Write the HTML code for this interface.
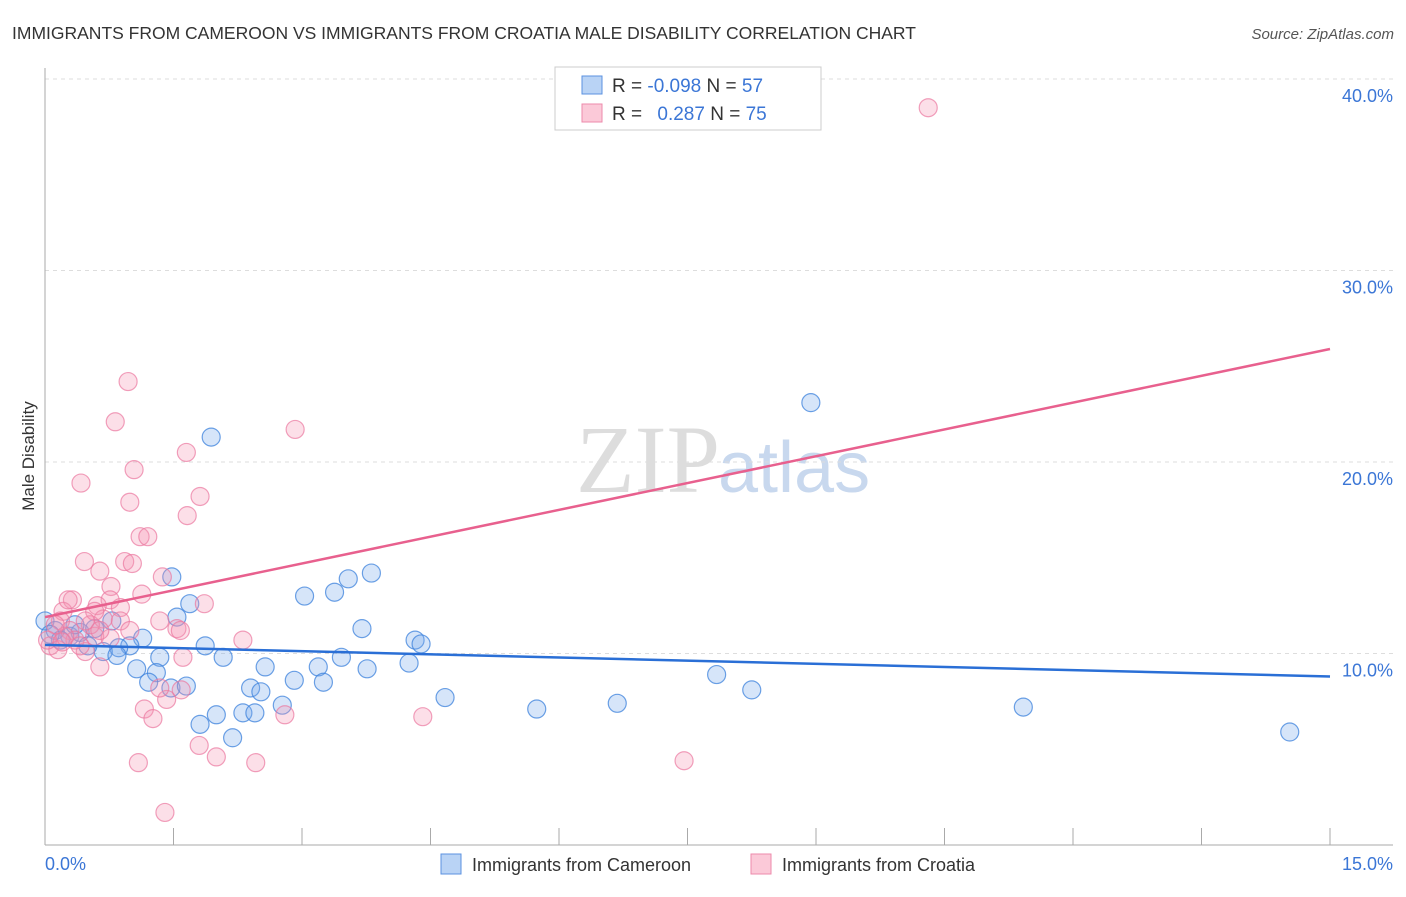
<!DOCTYPE html>
<html><head><meta charset="utf-8"><style>
body{margin:0;background:#fff;font-family:"Liberation Sans",sans-serif;}
</style></head><body>
<svg width="1406" height="892" xmlns="http://www.w3.org/2000/svg">
<text x="12" y="39" font-size="17.5" fill="#333">IMMIGRANTS FROM CAMEROON VS IMMIGRANTS FROM CROATIA MALE DISABILITY CORRELATION CHART</text>
<text x="1394" y="39" font-size="15" fill="#555" font-style="italic" text-anchor="end">Source: ZipAtlas.com</text>
<text x="720" y="492" font-size="96" fill="#ddd" text-anchor="end" font-family="Liberation Serif">ZIP</text>
<text x="718" y="492" font-size="72" fill="#c8d8ee">atlas</text>
<g id="grid"></g>
<g id="axes"></g>
<g id="pts"></g>
<g id="trends"></g>
<text transform="translate(34,456) rotate(-90)" font-size="17" fill="#333" text-anchor="middle">Male Disability</text>
<text x="45" y="870" font-size="18" fill="#3b76d6">0.0%</text>
<text x="1393" y="870" font-size="18" fill="#3b76d6" text-anchor="end">15.0%</text>
<g>
<rect x="555" y="67" width="266" height="63" fill="#fff" stroke="#ccc"/>
<rect x="582" y="76" width="20" height="18" fill="#b9d3f5" stroke="#5b92e0"/>
<rect x="582" y="104" width="20" height="18" fill="#fbc9d8" stroke="#ec8aab"/>
<text x="612" y="92" font-size="19" fill="#333">R = <tspan fill="#3b76d6">-0.098</tspan>   N = <tspan fill="#3b76d6">57</tspan></text>
<text x="612" y="120" font-size="19" fill="#333">R = <tspan fill="#3b76d6" dx="10">0.287</tspan>   N = <tspan fill="#3b76d6">75</tspan></text>
</g>
<g>
<rect x="441" y="854" width="20" height="20" fill="#b9d3f5" stroke="#5b92e0"/>
<text x="472" y="871" font-size="18" fill="#333">Immigrants from Cameroon</text>
<rect x="751" y="854" width="20" height="20" fill="#fbc9d8" stroke="#ec8aab"/>
<text x="782" y="871" font-size="18" fill="#333">Immigrants from Croatia</text>
</g>
</svg>
<script>
const yTicks=[10,20,30,40];
const xTicks=[0,1.5,3,4.5,6,7.5,9,10.5,12,13.5,15];
const blueX=[1.94,8.94,1.48,3.81,3.54,3.38,3.03,1.69,1.54,3.70,0.78,1.14,4.32,4.39,0.99,1.87,0.86,0.68,0.84,1.34,2.08,4.25,2.57,3.19,3.46,3.76,1.07,1.30,7.84,2.91,3.25,1.21,8.25,1.47,1.65,2.40,2.52,4.67,2.77,5.74,6.68,11.42,2.00,2.31,2.45,1.81,2.19,14.53,0.0,0.12,0.29,0.41,0.58,0.18,0.35,0.50,0.06];
const blueY=[21.3,23.1,14.0,14.2,13.9,13.2,13.0,12.6,11.9,11.3,11.7,10.8,10.7,10.5,10.4,10.4,10.3,10.1,9.9,9.8,9.8,9.5,9.3,9.3,9.8,9.2,9.2,9.0,8.9,8.6,8.5,8.5,8.1,8.2,8.3,8.2,8.0,7.7,7.3,7.1,7.4,7.2,6.8,6.9,6.9,6.3,5.6,5.9,11.7,11.2,10.9,11.1,11.3,10.7,11.5,10.4,11.0];
const pinkX=[10.31,0.97,0.82,2.92,1.65,1.04,0.42,0.99,1.81,1.66,1.11,1.20,0.46,0.93,1.37,0.64,1.02,0.77,1.13,1.86,0.32,0.76,0.21,0.61,0.88,0.68,1.34,1.54,1.58,2.31,0.58,0.76,0.47,1.61,0.64,2.80,1.16,1.26,1.42,1.59,1.34,4.41,1.80,2.00,2.46,1.09,7.46,1.40,0.18,0.29,0.06,0.35,0.23,0.12,0.53,0.41,0.15,0.27,0.58,0.88,0.99,0.03,0.20,0.47,0.64];
const pinkY=[38.5,24.2,22.1,21.7,20.5,19.6,18.9,17.9,18.2,17.2,16.1,16.1,14.8,14.8,14.0,14.3,14.7,13.5,13.1,12.6,12.8,12.8,12.2,12.5,12.4,11.8,11.7,11.3,11.2,10.7,10.9,10.8,10.1,9.8,9.3,6.8,7.1,6.6,7.6,8.1,8.2,6.7,5.2,4.6,4.3,4.3,4.4,1.7,11.7,11.2,10.4,10.7,10.9,11.5,11.5,10.4,10.2,12.8,12.2,11.7,11.2,10.7,10.6,11.7,11.2];
const blueTrend=[10.45,8.8];
const pinkTrend=[11.9,25.9];
const trendX=[0,15];
const NS="http://www.w3.org/2000/svg";
const sx=v=>45+v*(1285/15);
const sy=v=>845-v*19.15;
function mk(t,a,p){const e=document.createElementNS(NS,t);for(const k in a)e.setAttribute(k,a[k]);p.appendChild(e);return e;}
const grid=document.getElementById('grid'),axes=document.getElementById('axes'),pts=document.getElementById('pts'),tr=document.getElementById('trends');
yTicks.forEach(v=>{
 const l=mk('line',{x1:45,x2:1393,y1:sy(v),y2:sy(v),stroke:'#ddd','stroke-dasharray':'4,4'},grid);
 
 
 const t=mk('text',{x:1393,y:sy(v)+23,'font-size':18,fill:'#3b76d6','text-anchor':'end'},grid);
 t.textContent=v.toFixed(1)+'%';
 
 
});
const ya=mk('line',{x1:45,x2:45,y1:68,y2:845,stroke:'#aaa'},axes);


const xa=mk('line',{x1:45,x2:1393,y1:845,y2:845,stroke:'#aaa'},axes);


xTicks.forEach(v=>{
 const l=mk('line',{x1:sx(v),x2:sx(v),y1:828,y2:845,stroke:'#aaa'},axes);
 
 
});
blueX.forEach((x,i)=>{
 const c=mk('circle',{cx:sx(x),cy:sy(blueY[i]),r:9,fill:'rgba(120,170,235,0.3)',stroke:'rgba(60,130,220,0.75)','stroke-width':1.2},pts);
 
 
});
pinkX.forEach((x,i)=>{
 const c=mk('circle',{cx:sx(x),cy:sy(pinkY[i]),r:9,fill:'rgba(245,150,180,0.3)',stroke:'rgba(235,120,160,0.7)','stroke-width':1.2},pts);
 
 
});
const bl=mk('line',{x1:sx(trendX[0]),x2:sx(trendX[1]),y1:sy(blueTrend[0]),y2:sy(blueTrend[1]),stroke:'#2a6fd6','stroke-width':2.5},tr);


const pl=mk('line',{x1:sx(trendX[0]),x2:sx(trendX[1]),y1:sy(pinkTrend[0]),y2:sy(pinkTrend[1]),stroke:'#e8608e','stroke-width':2.5},tr);


</script>
</body></html>
